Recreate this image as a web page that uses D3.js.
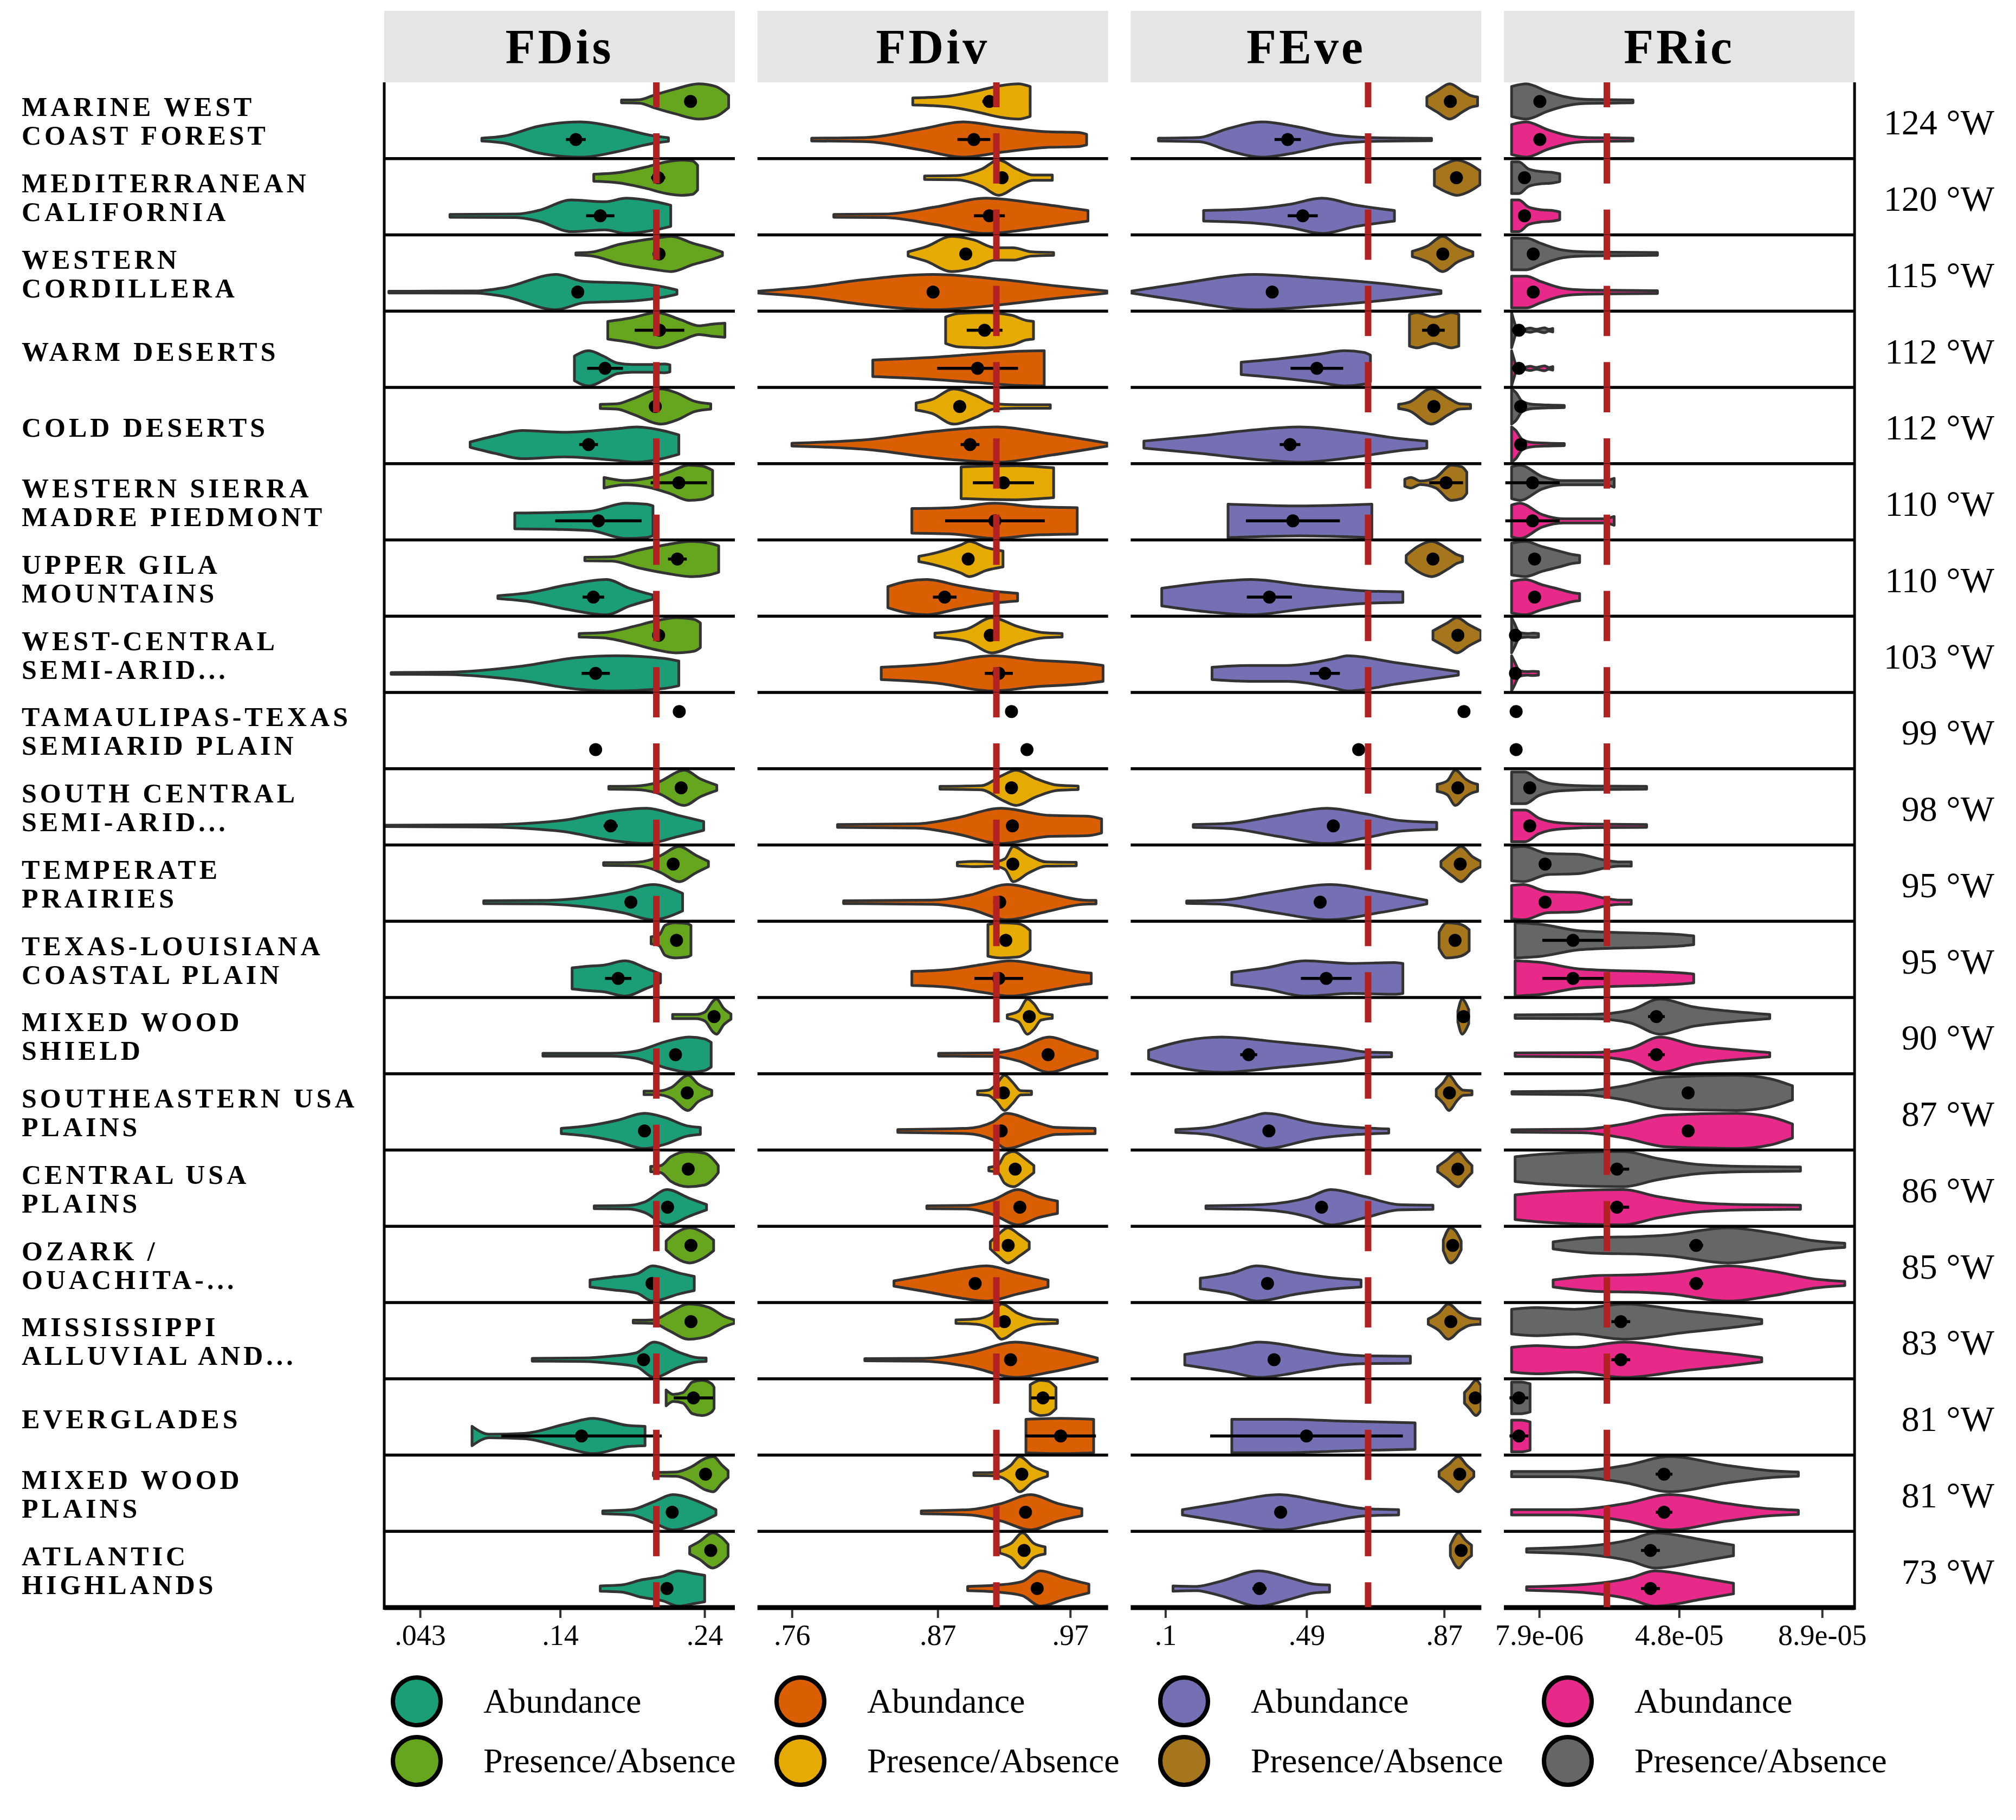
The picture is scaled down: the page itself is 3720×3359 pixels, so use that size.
<!DOCTYPE html>
<html>
<head>
<meta charset="utf-8">
<script src="https://cdn.jsdelivr.net/npm/d3@7"></script>
<style>
body { margin: 0; background: #fff; }
</style>
</head>
<body>
<script>
// ecoregions, top to bottom, and their longitudes (right-hand labels)
const regions = [
  "MARINE WEST\nCOAST FOREST", "MEDITERRANEAN\nCALIFORNIA", "WESTERN\nCORDILLERA",
  "WARM DESERTS", "COLD DESERTS", "WESTERN SIERRA\nMADRE PIEDMONT", "UPPER GILA\nMOUNTAINS",
  "WEST-CENTRAL\nSEMI-ARID...", "TAMAULIPAS-TEXAS\nSEMIARID PLAIN", "SOUTH CENTRAL\nSEMI-ARID...",
  "TEMPERATE\nPRAIRIES", "TEXAS-LOUISIANA\nCOASTAL PLAIN", "MIXED WOOD\nSHIELD",
  "SOUTHEASTERN USA\nPLAINS", "CENTRAL USA\nPLAINS", "OZARK /\nOUACHITA-...",
  "MISSISSIPPI\nALLUVIAL AND...", "EVERGLADES", "MIXED WOOD\nPLAINS", "ATLANTIC\nHIGHLANDS"
];
const longitudes = [124, 120, 115, 112, 112, 110, 110, 103, 99, 98, 95, 95, 90, 87, 86, 85, 83, 81, 81, 73];

const metrics = ["FDis", "FDiv", "FEve", "FRic"];
const refLines = [0.2066, 0.9143, 0.660, 2.73e-5];
const domains = [[0.0182, 0.2610], [0.7340, 0.9986], [0.0042, 0.9728], [-0.22e-5, 9.83e-5]];
const tickValues = [[0.043, 0.14, 0.24], [0.76, 0.87, 0.97], [0.1, 0.49, 0.87], [7.9e-6, 4.8e-5, 8.9e-5]];
const tickLabels = [[".043", ".14", ".24"], [".76", ".87", ".97"], [".1", ".49", ".87"], ["7.9e-06", "4.8e-05", "8.9e-05"]];
const abColors = ["#1B9E77", "#D95F02", "#7570B3", "#E7298A"];
const paColors = ["#66A61E", "#E6AB02", "#A6761D", "#666666"];

// per violin: [min, max, mean, error half-width]; null min/max = single value
const fdisPA = [
  [0.1825, 0.2567, 0.2303, 0], [0.1633, 0.2352, 0.2079, 0.0049], [0.1509, 0.2524, 0.2085, 0],
  [0.1730, 0.2541, 0.2088, 0.0172], [0.1678, 0.2443, 0.2059, 0], [0.1704, 0.2456, 0.2222, 0.0195],
  [0.1571, 0.2498, 0.2212, 0.0065], [0.1532, 0.2371, 0.2082, 0], [null, null, 0.2225, 0],
  [0.1737, 0.2485, 0.2238, 0], [0.1701, 0.2427, 0.2183, 0], [0.2030, 0.2306, 0.2206, 0],
  [0.2179, 0.2583, 0.2466, 0], [0.1981, 0.2450, 0.2280, 0], [0.2027, 0.2495, 0.2287, 0],
  [0.2134, 0.2463, 0.2306, 0], [0.1906, 0.2606, 0.2306, 0], [0.2134, 0.2466, 0.2323, 0.0137],
  [0.2046, 0.2563, 0.2407, 0], [0.2297, 0.2563, 0.2443, 0]
];
const fdisAb = [
  [0.0858, 0.2150, 0.1509, 0.0068], [0.0637, 0.2166, 0.1678, 0.0098], [0.0214, 0.2209, 0.1522, 0],
  [0.1499, 0.2160, 0.1711, 0.0124], [0.0777, 0.2222, 0.1597, 0.0065], [0.1086, 0.2043, 0.1665, 0.0299],
  [0.0969, 0.2043, 0.1630, 0.0075], [0.0230, 0.2222, 0.1646, 0.0098], [null, null, 0.1646, 0],
  [0.0188, 0.2394, 0.1750, 0.0049], [0.0871, 0.2248, 0.1890, 0], [0.1483, 0.2095, 0.1802, 0.0091],
  [0.1281, 0.2446, 0.2199, 0], [0.1408, 0.2371, 0.1984, 0], [0.1636, 0.2414, 0.2144, 0],
  [0.1607, 0.2329, 0.2036, 0], [0.1207, 0.2411, 0.1978, 0], [0.0790, 0.1988, 0.1548, 0.0556],
  [0.1695, 0.2479, 0.2176, 0], [0.1678, 0.2401, 0.2140, 0]
];
const fdivPA = [
  [0.8512, 0.9398, 0.9090, 0.0053], [0.8601, 0.9565, 0.9186, 0.0028], [0.8477, 0.9575, 0.8912, 0],
  [0.8760, 0.9423, 0.9054, 0.0135], [0.8537, 0.9550, 0.8866, 0], [0.8877, 0.9575, 0.9196, 0.0231],
  [0.8558, 0.9193, 0.8930, 0], [0.8679, 0.9639, 0.9097, 0], [null, null, 0.9257, 0],
  [0.8717, 0.9760, 0.9257, 0], [0.8848, 0.9746, 0.9267, 0], [0.9079, 0.9398, 0.9214, 0],
  [0.9225, 0.9565, 0.9391, 0], [0.9001, 0.9408, 0.9196, 0], [0.9086, 0.9426, 0.9285, 0],
  [0.9097, 0.9391, 0.9232, 0], [0.8838, 0.9604, 0.9203, 0], [0.9398, 0.9593, 0.9494, 0.0089],
  [0.8973, 0.9529, 0.9335, 0], [0.9168, 0.9511, 0.9352, 0]
];
const fdivAb = [
  [0.7749, 0.9824, 0.8973, 0.0124], [0.7916, 0.9834, 0.9090, 0.0117], [0.7341, 0.9994, 0.8665, 0],
  [0.8210, 0.9504, 0.9001, 0.0305], [0.7600, 0.9983, 0.8944, 0.0071], [0.8505, 0.9753, 0.9132, 0.0376],
  [0.8324, 0.9303, 0.8753, 0.0089], [0.8274, 0.9948, 0.9161, 0.0106], [null, null, 0.9374, 0],
  [0.7944, 0.9937, 0.9264, 0], [0.7990, 0.9895, 0.9168, 0], [0.8505, 0.9859, 0.9161, 0.0184],
  [0.8707, 0.9905, 0.9533, 0], [0.8399, 0.9888, 0.9179, 0], [0.8618, 0.9604, 0.9320, 0],
  [0.8370, 0.9533, 0.8983, 0], [0.8150, 0.9905, 0.9250, 0], [0.9366, 0.9877, 0.9628, 0.0266],
  [0.8576, 0.9788, 0.9363, 0], [0.8926, 0.9841, 0.9451, 0]
];
const fevePA = [
  [0.8223, 0.9625, 0.8872, 0], [0.8431, 0.9690, 0.9041, 0], [0.7821, 0.9495, 0.8664, 0],
  [0.7743, 0.9106, 0.8405, 0.0312], [0.7444, 0.9431, 0.8418, 0], [0.7613, 0.9327, 0.8755, 0.0467],
  [0.7652, 0.9210, 0.8392, 0], [0.8392, 0.9716, 0.9080, 0], [null, null, 0.9249, 0],
  [0.8509, 0.9625, 0.9080, 0], [0.8613, 0.9716, 0.9145, 0], [0.8561, 0.9392, 0.9002, 0],
  [0.9080, 0.9379, 0.9236, 0], [0.8483, 0.9470, 0.8846, 0], [0.8522, 0.9470, 0.9080, 0],
  [0.8677, 0.9171, 0.8937, 0], [0.8262, 0.9716, 0.8885, 0], [0.9262, 0.9716, 0.9561, 0],
  [0.8561, 0.9521, 0.9132, 0], [0.8872, 0.9457, 0.9171, 0]
];
const feveAb = [
  [0.0809, 0.8353, 0.4379, 0.0364], [0.2056, 0.7328, 0.4795, 0.0415], [0.0043, 0.8613, 0.3951, 0],
  [0.3094, 0.6665, 0.5185, 0.0727], [0.0406, 0.8223, 0.4444, 0.0286], [0.2731, 0.6704, 0.4522, 0.1298],
  [0.0900, 0.7561, 0.3873, 0.0623], [0.2289, 0.9093, 0.5406, 0.0415], [null, null, 0.6340, 0],
  [0.1770, 0.8496, 0.5639, 0], [0.1588, 0.8223, 0.5276, 0], [0.2835, 0.7561, 0.5444, 0.0701],
  [0.0536, 0.7249, 0.3302, 0.0234], [0.1289, 0.7171, 0.3860, 0], [0.2120, 0.8392, 0.5315, 0],
  [0.1965, 0.6405, 0.3821, 0], [0.1536, 0.7769, 0.4003, 0], [0.2835, 0.7898, 0.4899, 0.2662],
  [0.1471, 0.7444, 0.4185, 0], [0.1211, 0.5535, 0.3600, 0.0195]
];
// FRic is the same for presence/absence and abundance
const fricPA = [
  [0, 3.48e-5, 0.81e-5, 0], [0, 1.38e-5, 0.37e-5, 0], [0, 4.18e-5, 0.62e-5, 0],
  [0, 1.18e-5, 0.21e-5, 0.2e-5], [0, 1.51e-5, 0.26e-5, 0], [0, 2.94e-5, 0.60e-5, 0.78e-5],
  [0, 1.95e-5, 0.66e-5, 0], [0, 0.77e-5, 0.11e-5, 0], [null, null, 0.13e-5, 0],
  [0, 3.87e-5, 0.52e-5, 0], [0, 3.43e-5, 0.96e-5, 0], [0.1e-5, 5.22e-5, 1.76e-5, 0.88e-5],
  [0.1e-5, 7.40e-5, 4.15e-5, 0.24e-5], [0.01e-5, 8.05e-5, 5.06e-5, 0], [0.1e-5, 8.28e-5, 3.02e-5, 0.35e-5],
  [1.19e-5, 9.55e-5, 5.29e-5, 0.2e-5], [0, 7.17e-5, 3.13e-5, 0.27e-5], [0, 0.53e-5, 0.21e-5, 0.27e-5],
  [0, 8.22e-5, 4.37e-5, 0.24e-5], [0.43e-5, 6.36e-5, 3.98e-5, 0.27e-5]
];
const fricAb = fricPA;

// violin outlines: pairs of (fraction of min..max, relative width)
const fdisPAShape = [
  [0,.08, .17,.1, .3,.35, .5,.7, .72,1, .88,.85, 1,.35],
  [0,.2, .25,.3, .5,.6, .7,.9, .85,1, .95,.95, 1,.7],
  [0,.06, .1,.1, .3,.55, .55,.9, .65,1, .8,.6, .95,.25, 1,.1],
  [0,.5, .2,.7, .42,1, .62,.6, .78,.25, .9,.35, 1,.4],
  [0,.12, .15,.15, .3,.45, .55,1, .7,.75, .85,.3, 1,.15],
  [0,.3, .2,.12, .4,.25, .6,.6, .78,1, .9,.95, 1,.7],
  [0,.1, .2,.12, .4,.5, .6,.8, .8,1, .93,.9, 1,.75],
  [0,.1, .2,.15, .45,.5, .62,.8, .8,1, .95,.9, 1,.7],
  null,
  [0,.08, .25,.1, .45,.3, .7,1, .85,.5, 1,.15],
  [0,.08, .3,.1, .45,.25, .55,.5, .72,1, .88,.5, 1,.15],
  [0,.2, .2,.3, .35,.85, .6,1, .9,.95, 1,.85],
  [0,.12, .4,.12, .55,.25, .7,.9, .75,1, .88,.45, 1,.15],
  [0,.1, .2,.1, .4,.3, .65,1, .8,.5, 1,.15],
  [0,.15, .15,.2, .3,.7, .55,1, .8,.9, .95,.45, 1,.2],
  [0,.25, .2,.7, .5,1, .8,.7, 1,.3],
  [0,.08, .2,.1, .35,.5, .55,1, .75,.8, .9,.3, 1,.1],
  [0,.45, .15,.2, .35,.3, .55,.9, .75,1, .95,.8, 1,.6],
  [0,.1, .3,.12, .5,.4, .7,.9, .8,1, .92,.5, 1,.2],
  [0,.2, .25,.5, .6,1, .85,.7, 1,.35]
];
const fdisAbShape = [
  [0,.08, .12,.2, .3,.75, .53,1, .72,.7, .9,.25, 1,.1],
  [0,.08, .3,.1, .4,.3, .55,.9, .7,.8, .8,1, .93,.8, 1,.6],
  [0,.05, .3,.06, .4,.25, .58,1, .68,.6, .85,.5, .95,.3, 1,.12],
  [0,.7, .15,1, .3,.7, .45,.3, .6,.22, .8,.22, .95,.25, 1,.2],
  [0,.15, .12,.5, .25,.8, .45,.7, .7,.9, .8,1, .92,.8, 1,.55],
  [0,.45, .3,.48, .55,.55, .8,1, .95,.95, 1,.85],
  [0,.08, .2,.25, .45,.7, .7,1, .85,.5, 1,.12],
  [0,.05, .2,.07, .45,.4, .65,.9, .78,1, .95,.85, 1,.7],
  null,
  [0,.04, .3,.06, .55,.3, .72,.85, .82,1, .92,.6, 1,.25],
  [0,.08, .3,.1, .5,.25, .7,.6, .85,1, 1,.5],
  [0,.6, .2,.7, .35,.75, .6,1, .85,.55, 1,.25],
  [0,.08, .4,.08, .55,.2, .75,.8, .87,1, .96,.9, 1,.7],
  [0,.15, .2,.3, .4,.6, .6,1, .75,.75, .9,.3, 1,.2],
  [0,.08, .3,.1, .45,.3, .65,1, .85,.5, 1,.15],
  [0,.2, .2,.35, .45,.55, .6,1, .85,.6, 1,.4],
  [0,.08, .3,.1, .45,.2, .6,.4, .7,1, .85,.4, .95,.12, 1,.1],
  [0,.55, .1,.1, .3,.15, .55,.7, .7,1, .9,.6, 1,.55],
  [0,.08, .25,.15, .45,.6, .62,1, .85,.6, 1,.15],
  [0,.15, .2,.2, .4,.5, .6,.7, .75,1, .9,.85, 1,.75]
];
const fdivPAShape = [
  [0,.2, .3,.3, .55,.6, .75,.9, .9,1, 1,.85],
  [0,.1, .25,.12, .45,.5, .58,1, .72,.5, .85,.15, 1,.15],
  [0,.12, .12,.4, .3,1, .45,.8, .6,.35, .72,.35, .85,.12, 1,.08],
  [0,.75, .15,.95, .45,1, .75,.85, .92,.55, 1,.5],
  [0,.2, .12,.4, .28,1, .45,.6, .58,.15, .75,.1, 1,.1],
  [0,.9, .3,.95, .6,.97, .85,.9, 1,.85],
  [0,.15, .2,.35, .5,.8, .6,1, .8,.65, 1,.45],
  [0,.12, .25,.35, .45,1, .65,.5, .85,.15, 1,.1],
  null,
  [0,.08, .3,.12, .45,.7, .55,1, .7,.5, .85,.15, 1,.1],
  [0,.1, .15,.15, .3,.12, .4,.3, .47,1, .6,.5, .75,.12, 1,.1],
  [0,.9, .3,1, .7,.95, .9,.75, 1,.55],
  [0,.1, .25,.3, .45,1, .6,.7, .75,.2, 1,.1],
  [0,.1, .2,.15, .35,.5, .5,1, .65,.6, .8,.12, 1,.1],
  [0,.1, .2,.2, .35,.8, .55,1, .8,.6, 1,.2],
  [0,.2, .2,.6, .45,1, .75,.6, 1,.2],
  [0,.1, .2,.15, .35,.45, .45,1, .6,.5, .8,.15, 1,.1],
  [0,.75, .4,1, .7,.95, 1,.6],
  [0,.08, .3,.1, .5,.5, .62,1, .8,.45, 1,.12],
  [0,.15, .25,.4, .5,1, .75,.4, 1,.2]
];
const fdivAbShape = [
  [0,.08, .2,.12, .4,.6, .55,1, .7,.7, .85,.45, .97,.4, 1,.3],
  [0,.08, .2,.1, .4,.5, .6,1, .8,.7, .95,.4, 1,.3],
  [0,.05, .15,.3, .3,.7, .5,1, .7,.7, .85,.35, 1,.05],
  [0,.47, .3,.6, .6,.8, .85,.97, 1,1],
  [0,.08, .25,.3, .45,.75, .65,1, .82,.6, 1,.08],
  [0,.7, .25,.75, .5,1, .75,.8, 1,.75],
  [0,.6, .15,.9, .3,1, .55,.65, .8,.35, 1,.22],
  [0,.35, .25,.55, .5,1, .7,.75, .9,.6, 1,.45],
  null,
  [0,.08, .3,.12, .45,.45, .62,1, .8,.6, .95,.55, 1,.4],
  [0,.08, .35,.12, .5,.4, .65,1, .8,.55, .95,.12, 1,.1],
  [0,.4, .2,.5, .4,.8, .55,1, .75,.7, .95,.35, 1,.3],
  [0,.08, .35,.1, .5,.35, .7,1, .85,.6, 1,.2],
  [0,.08, .35,.15, .48,.5, .55,1, .7,.5, .8,.2, 1,.15],
  [0,.08, .3,.1, .5,.4, .7,1, .85,.6, 1,.35],
  [0,.15, .2,.45, .45,.85, .6,1, .8,.6, 1,.2],
  [0,.06, .25,.08, .45,.4, .65,1, .8,.7, 1,.1],
  [0,.95, .5,1, 1,.95],
  [0,.08, .3,.15, .5,.5, .68,1, .85,.5, 1,.2],
  [0,.12, .25,.2, .45,.4, .6,1, .8,.6, 1,.25]
];
const fevePAShape = [
  [0,.25, .2,.6, .45,1, .7,.6, .85,.35, 1,.25],
  [0,.45, .25,.8, .5,1, .75,.8, 1,.4],
  [0,.15, .25,.45, .5,1, .75,.45, 1,.12],
  [0,.9, .15,1, .5,.75, .85,1, 1,.9],
  [0,.12, .15,.25, .45,1, .7,.45, .85,.15, 1,.12],
  [0,.2, .1,.3, .25,.1, .5,.3, .75,1, .92,.9, 1,.6],
  [0,.2, .2,.7, .45,1, .75,.55, .9,.25, 1,.15],
  [0,.25, .3,.7, .5,1, .75,.6, 1,.25],
  null,
  [0,.2, .25,.4, .45,1, .7,.5, .85,.3, 1,.2],
  [0,.15, .3,.7, .5,1, .8,.4, 1,.15],
  [0,.45, .25,1, .6,.95, .85,.8, 1,.6],
  [0,.3, .4,1, .7,.8, 1,.4],
  [0,.2, .2,.6, .35,1, .6,.4, .75,.15, 1,.12],
  [0,.15, .25,.5, .6,1, .85,.5, 1,.2],
  [0,.3, .4,1, .7,.8, 1,.25],
  [0,.15, .2,.5, .38,1, .6,.5, .8,.2, 1,.15],
  [0,.3, .3,.6, .7,1, 1,.7],
  [0,.15, .3,.6, .55,1, .8,.5, 1,.15],
  [0,.3, .4,1, .7,.6, 1,.3]
];
const feveAbShape = [
  [0,.08, .15,.12, .25,.6, .38,1, .5,.75, .65,.25, .8,.1, 1,.07],
  [0,.3, .25,.4, .45,.65, .62,1, .8,.6, 1,.3],
  [0,.05, .15,.45, .4,1, .6,.8, .8,.5, 1,.08],
  [0,.35, .3,.55, .6,.8, .8,1, .95,.9, 1,.75],
  [0,.2, .2,.5, .4,.85, .55,1, .75,.7, .9,.35, 1,.2],
  [0,.95, .5,.85, 1,.95],
  [0,.5, .2,.85, .37,1, .6,.65, .85,.35, 1,.3],
  [0,.35, .15,.45, .3,.45, .5,.85, .55,1, .75,.6, 1,.1],
  null,
  [0,.08, .15,.15, .35,.6, .55,1, .7,.7, .85,.3, 1,.2],
  [0,.07, .15,.12, .35,.55, .6,1, .8,.6, 1,.1],
  [0,.35, .2,.6, .43,1, .7,.85, .95,.9, 1,.85],
  [0,.25, .15,.8, .3,1, .55,.7, .8,.35, .9,.15, 1,.12],
  [0,.08, .15,.2, .35,.8, .42,1, .65,.45, .85,.2, 1,.12],
  [0,.08, .25,.15, .45,.55, .55,1, .7,.6, .85,.15, 1,.12],
  [0,.3, .2,.6, .35,1, .6,.6, .85,.3, 1,.2],
  [0,.3, .2,.7, .33,1, .55,.6, .7,.3, .8,.22, 1,.2],
  [0,.95, .3,.95, .6,.85, 1,.75],
  [0,.15, .2,.55, .45,1, .65,.6, .85,.2, 1,.15],
  [0,.15, .15,.12, .3,.4, .55,1, .75,.6, .9,.25, 1,.2]
];
const fricPAShape = [
  [0,.85, .12,1, .3,.55, .45,.25, .6,.12, .8,.1, 1,.08],
  [0,.9, .15,.9, .35,.5, .6,.35, .85,.3, 1,.22],
  [0,.9, .1,.9, .2,.6, .35,.22, .5,.12, .7,.1, 1,.08],
  [0,1, .05,.6, .12,.15, .3,.06, .45,.12, .6,.05, .8,.14, .9,.05, 1,.1],
  [0,1, .08,.8, .2,.3, .4,.12, .7,.08, 1,.06],
  [0,.9, .08,1, .3,.35, .5,.12, .9,.12, 1,.25],
  [0,.9, .2,1, .45,.7, .7,.45, .9,.25, 1,.2],
  [0,1, .1,.7, .3,.15, .6,.1, .8,.12, 1,.1],
  null,
  [0,.9, .1,.9, .2,.45, .35,.18, .6,.1, 1,.08],
  [0,.95, .1,1, .3,.6, .55,.55, .8,.2, .9,.12, 1,.12],
  [0,1, .15,.9, .35,.55, .55,.45, .75,.4, .95,.3, 1,.25],
  [0,.1, .3,.12, .45,.35, .57,1, .7,.55, .85,.3, 1,.12],
  [0,.07, .25,.1, .4,.4, .55,.9, .8,1, .92,.8, 1,.4],
  [0,.7, .1,.85, .38,1, .5,.6, .65,.25, .8,.15, 1,.12],
  [0,.2, .15,.45, .3,.5, .4,.6, .6,1, .75,.7, .9,.25, 1,.12],
  [0,.7, .1,.8, .25,.7, .45,1, .7,.6, .9,.3, 1,.12],
  [0,.9, .5,.9, 1,.8],
  [0,.15, .2,.15, .4,.5, .55,1, .75,.5, .9,.2, 1,.12],
  [0,.1, .3,.25, .5,.6, .62,1, .85,.6, 1,.3]
];
const fricAbShape = fricPAShape;

const paStats = [fdisPA, fdivPA, fevePA, fricPA];
const abStats = [fdisAb, fdivAb, feveAb, fricAb];
const paShapes = [fdisPAShape, fdivPAShape, fevePAShape, fricPAShape];
const abShapes = [fdisAbShape, fdivAbShape, feveAbShape, fricAbShape];

const W = 3720, H = 3359;
const serif = "'Liberation Serif', 'DejaVu Serif', serif";
const panelLeft = 709, panelW = 647, panelStep = 688.7;
const plotTop = 152, plotBottom = 2967;
const stripTop = 20;
const halfW = 32.5;

const svg = d3.select("body").append("svg")
    .attr("width", W)
    .attr("height", H)
    .style("background", "#fff");

const y = d3.scaleBand().domain(d3.range(regions.length)).range([plotTop, plotBottom]);
const sub = d3.scaleBand().domain(["pa", "ab"]).range([0, y.bandwidth()]);
const defs = svg.append("defs");

function violinPath(x, s, shape, cy){
    const pts = [];
    for (let k = 0; k < shape.length; k += 2) {
        pts.push({v: s[0] + shape[k] * (s[1] - s[0]), w: shape[k + 1]});
    }
    return d3.area()
        .x(d => x(d.v))
        .y0(d => cy - d.w * halfW)
        .y1(d => cy + d.w * halfW)
        .curve(d3.curveMonotoneX)(pts);
}

metrics.forEach((m, i) => {
    const x0 = panelLeft + i * panelStep;
    const x = d3.scaleLinear().domain(domains[i]).range([x0, x0 + panelW]);
    const g = svg.append("g");

    // strip
    g.append("rect")
        .attr("x", x0).attr("y", stripTop)
        .attr("width", panelW).attr("height", plotTop - stripTop)
        .attr("fill", "#E5E5E5");
    g.append("text")
        .attr("x", x0 + panelW / 2).attr("y", 117)
        .attr("text-anchor", "middle")
        .attr("font-family", serif).attr("font-weight", "bold")
        .attr("font-size", 90).attr("letter-spacing", 5)
        .text(m);

    defs.append("clipPath").attr("id", "clip" + i)
        .append("rect").attr("x", x0).attr("y", plotTop)
        .attr("width", panelW).attr("height", plotBottom - plotTop);

    const body = g.append("g").attr("clip-path", "url(#clip" + i + ")");

    const groups = [
        {key: "pa", stats: paStats[i], shapes: paShapes[i], color: paColors[i]},
        {key: "ab", stats: abStats[i], shapes: abShapes[i], color: abColors[i]}
    ];

    // violins
    groups.forEach(gr => {
        gr.stats.forEach((s, r) => {
            if (s[0] === null || !gr.shapes[r]) return;
            const cy = y(r) + sub(gr.key) + sub.bandwidth() / 2;
            body.append("path")
                .attr("d", violinPath(x, s, gr.shapes[r], cy))
                .attr("fill", gr.color)
                .attr("stroke", "#333333")
                .attr("stroke-width", 5)
                .attr("stroke-linejoin", "round");
        });
    });

    // error bars and means
    groups.forEach(gr => {
        gr.stats.forEach((s, r) => {
            const cy = y(r) + sub(gr.key) + sub.bandwidth() / 2;
            if (s[3] > 0) {
                body.append("line")
                    .attr("x1", x(s[2] - s[3])).attr("x2", x(s[2] + s[3]))
                    .attr("y1", cy).attr("y2", cy)
                    .attr("stroke", "#000").attr("stroke-width", 5.5);
            }
            body.append("circle")
                .attr("cx", x(s[2])).attr("cy", cy).attr("r", 12)
                .attr("fill", "#000");
        });
    });

    // row separators and reference line, one facet row at a time
    regions.forEach((reg, r) => {
        g.append("line")
            .attr("x1", x0).attr("x2", x0 + panelW)
            .attr("y1", y(r) + y.bandwidth()).attr("y2", y(r) + y.bandwidth())
            .attr("stroke", "#000")
            .attr("stroke-width", r === regions.length - 1 ? 9 : 5.5);
        g.append("line")
            .attr("x1", x(refLines[i])).attr("x2", x(refLines[i]))
            .attr("y1", y(r)).attr("y2", y(r) + y.bandwidth())
            .attr("stroke", "#B22222").attr("stroke-width", 12)
            .attr("stroke-dasharray", "46 48");
    });

    if (i === 0) {
        g.append("line").attr("x1", x0).attr("x2", x0)
            .attr("y1", plotTop).attr("y2", plotBottom + 4)
            .attr("stroke", "#000").attr("stroke-width", 5);
    }
    if (i === metrics.length - 1) {
        g.append("line").attr("x1", x0 + panelW).attr("x2", x0 + panelW)
            .attr("y1", plotTop).attr("y2", plotBottom + 4)
            .attr("stroke", "#000").attr("stroke-width", 5);
    }

    // bottom axis
    const ax = g.append("g")
        .attr("transform", "translate(0," + (plotBottom + 4) + ")")
        .call(d3.axisBottom(x)
            .tickValues(tickValues[i])
            .tickFormat((d, j) => tickLabels[i][j])
            .tickSize(15).tickSizeOuter(0).tickPadding(12));
    ax.select(".domain").remove();
    ax.selectAll(".tick line").attr("stroke", "#333").attr("stroke-width", 4);
    ax.selectAll(".tick text")
        .attr("font-family", serif).attr("font-size", 54).attr("fill", "#000");

    // legend column
    const lx = 769 + i * 708;
    [["Abundance", abColors[i], 3140], ["Presence/Absence", paColors[i], 3250]].forEach(([lab, col, ly]) => {
        svg.append("circle")
            .attr("cx", lx).attr("cy", ly).attr("r", 44)
            .attr("fill", col).attr("stroke", "#000").attr("stroke-width", 8);
        svg.append("text")
            .attr("x", lx + 123).attr("y", ly + 21)
            .attr("font-family", serif).attr("font-size", 64)
            .text(lab);
    });
});

// ecoregion labels on the left
regions.forEach((reg, r) => {
    const c = y(r) + y.bandwidth() / 2;
    const lines = reg.split("\n");
    const t = svg.append("text")
        .attr("font-family", serif).attr("font-weight", "bold")
        .attr("font-size", 50).attr("letter-spacing", 6);
    if (lines.length === 1) {
        t.append("tspan").attr("x", 40).attr("y", c + 21).text(lines[0]);
    } else {
        t.append("tspan").attr("x", 40).attr("y", c - 8).text(lines[0]);
        t.append("tspan").attr("x", 40).attr("y", c + 45).text(lines[1]);
    }
    svg.append("text")
        .attr("x", 3680).attr("y", c + 26)
        .attr("text-anchor", "end")
        .attr("font-family", serif).attr("font-size", 66)
        .text(longitudes[r] + " \u00B0W");
});
</script>
</body>
</html>
